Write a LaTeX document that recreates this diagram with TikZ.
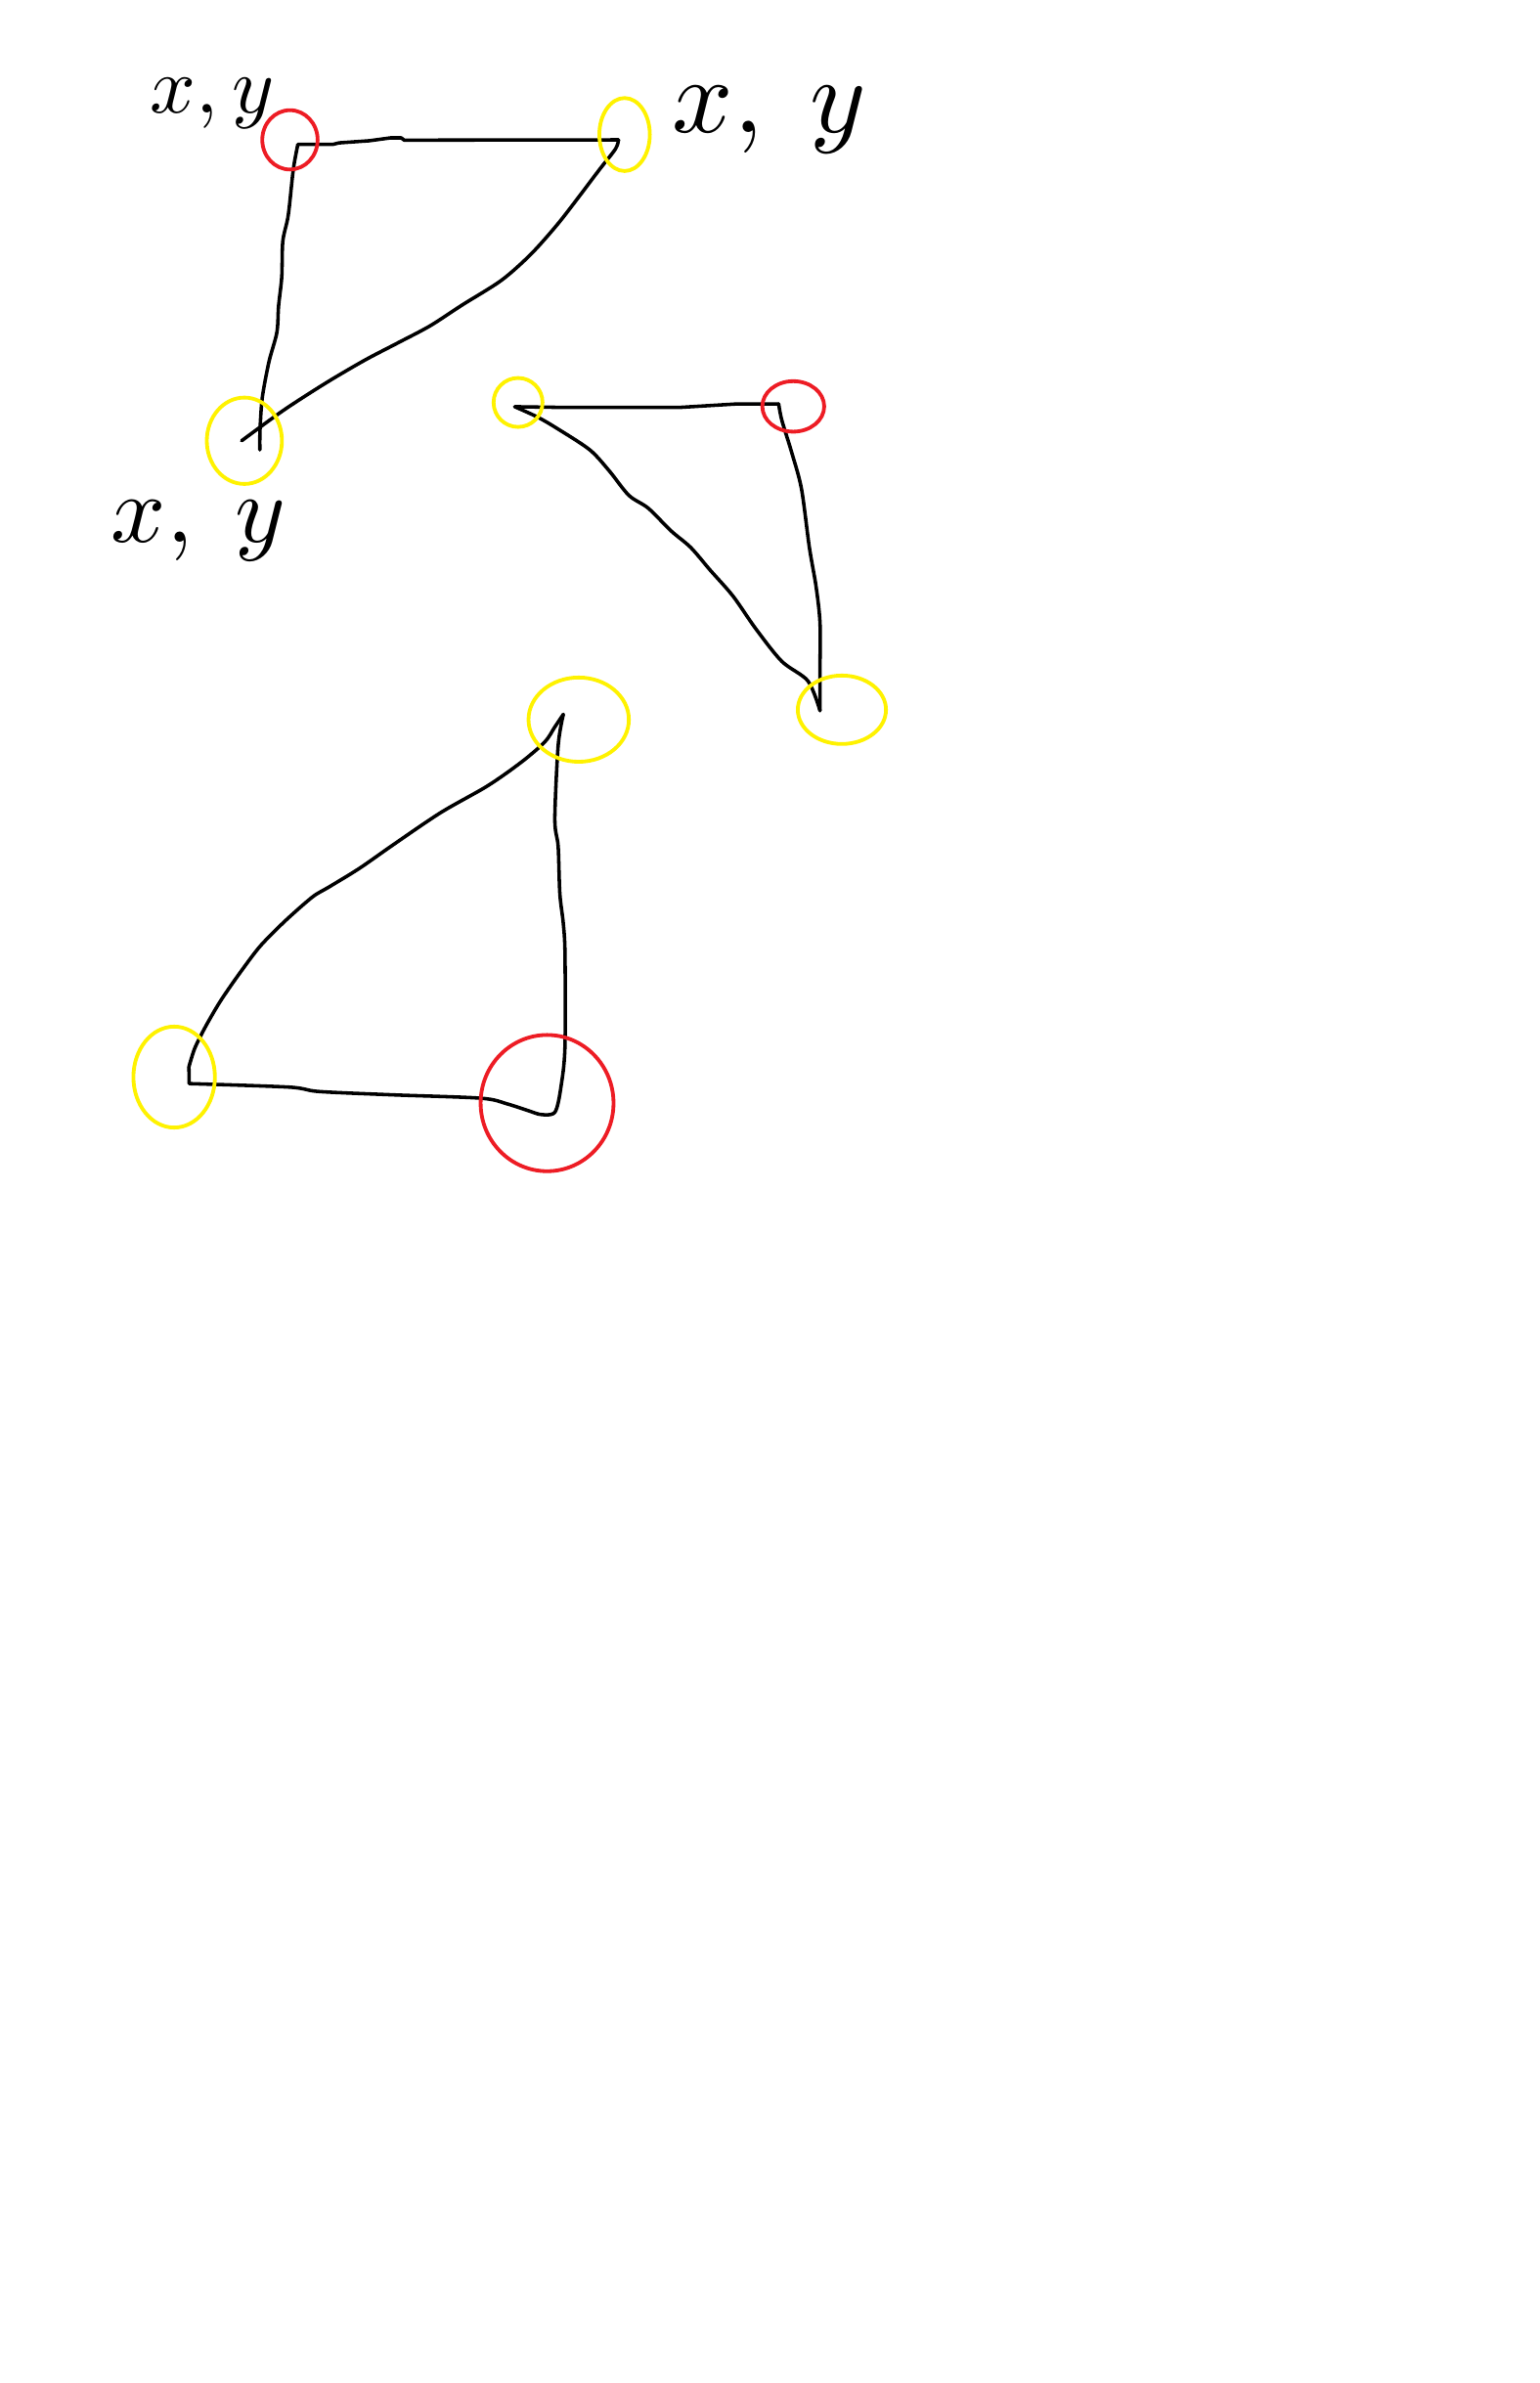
\documentclass[tikz,border=0pt]{standalone}
\usetikzlibrary{shapes.geometric}

\definecolor{paintred}{RGB}{237,28,36}
\definecolor{paintyellow}{RGB}{255,242,0}

\begin{document}
\begin{tikzpicture}[
    x=0.01cm, y=-0.01cm,
    pen/.style     = {line width=0.65pt, black, line join=round, line cap=round},
    redring/.style = {ellipse, draw=paintred, line width=0.7pt, inner sep=0pt},
    yelring/.style = {ellipse, draw=paintyellow, line width=0.7pt, inner sep=0pt},
    lbl/.style     = {anchor=base west, inner sep=0pt}
]
\useasboundingbox (0,0) rectangle (1013,1568);

%% -- Triangle 1 (top left) ----------------------------------
\coordinate (tri1_a) at (196,95);
\coordinate (tri1_b) at (407,92);
\coordinate (tri1_c) at (171,296);
\coordinate (tri1_d) at (159,290);

\draw[pen] (tri1_a) -- (219,95) -- (223,94) -- (243,92.6) -- (257,90.7)
           -- (264,90.7) -- (266,92.2) -- (tri1_b);
\draw[pen] plot[smooth] coordinates {(tri1_a) (193,111.5) (189.7,141.5) (186.1,158.7)
           (185.4,182.2) (183.3,201.5) (182.2,218.7) (177,238) (172.6,261.6) (171.1,283) (tri1_c)};
\draw[pen] plot[smooth] coordinates {(tri1_b) (405,98) (394.5,111.5) (381.6,128.6) (366.6,147.9)
           (349.4,167.2) (330,184.4) (304.4,200.5) (283,214.4) (262,225.5) (240,237)
           (214.4,252) (186.5,270) (tri1_d)};

\node[redring, minimum width=0.364cm, minimum height=0.39cm]  (ring1_a) at (190.8,92) {};
\node[yelring, minimum width=0.332cm, minimum height=0.48cm]  (ring1_b) at (411,88.5) {};
\node[yelring, minimum width=0.494cm, minimum height=0.568cm] (ring1_c) at (160.8,290) {};

\node[lbl, scale=1.5] (lbl_a) at (98,74)  {$x,y$};
\node[lbl, scale=2.0] (lbl_b) at (441,87) {$x,\;y$};
\node[lbl, scale=1.8] (lbl_c) at (72,357) {$x,\;y$};

%% -- Triangle 2 (middle right) ------------------------------
\coordinate (tri2_a) at (338.7,267.6);
\coordinate (tri2_b) at (512.4,265.8);
\coordinate (tri2_c) at (539.6,467.6);

\draw[pen] (tri2_a) -- (366.6,268) -- (448.1,268) -- (484.5,265.8) -- (tri2_b);
\draw[pen] plot[smooth] coordinates {(tri2_b) (514.5,276.6) (521,297.8) (527.4,321.6)
           (532.6,360.2) (537,385.9) (539.6,409.7) (539.6,440) (tri2_c)};
\draw[pen] plot[smooth] coordinates {(tri2_a) (353.7,274.4) (366.6,281.9) (388,295.9)
           (400.9,309.8) (413.8,325.9) (426.6,334.4) (441.7,349.4) (454.5,360.2)
           (467.4,375.2) (482.4,392.3) (497.4,413.8) (514.5,435.2) (531.7,448.1) (tri2_c)};

\node[yelring, minimum width=0.322cm, minimum height=0.322cm] (ring2_a) at (340.9,264.8) {};
\node[redring, minimum width=0.407cm, minimum height=0.332cm] (ring2_b) at (522,267.4) {};
\node[yelring, minimum width=0.58cm,  minimum height=0.45cm]  (ring2_c) at (554,467) {};

%% -- Triangle 3 (bottom) ------------------------------------
\coordinate (tri3_a) at (370.7,470);
\coordinate (tri3_b) at (354,733);
\coordinate (tri3_c) at (124.5,713);

\draw[pen] plot[smooth] coordinates {(tri3_a) (367.3,490.5) (365.1,539.2) (367.3,557)
           (368.4,588) (370.7,607.9) (371.8,627.8) (371.8,687.6) (369.6,712) (365.1,731.9) (tri3_b)};
\draw[pen] plot[smooth] coordinates {(tri3_b) (334,726.4) (316.4,722.6) (258.8,720.4)
           (210,718.2) (190.1,715.3) (tri3_c)};
\draw[pen] (tri3_c) -- (124.3,702);
\draw[pen] plot[smooth] coordinates {(124.3,702) (128.1,689.9) (134.7,676.5) (143.6,661)
           (152.5,647.7) (163.6,632.3) (172.4,621.2) (187.9,605.7) (205.6,590.2)
           (216.7,583.5) (236.6,571.3) (258.8,555.8) (289.8,534.8) (320.8,517.1)
           (342.9,501.6) (358.4,488.3) (365.1,478.3) (tri3_a)};

\node[yelring, minimum width=0.66cm,  minimum height=0.554cm] (ring3_a) at (380.8,473.5) {};
\node[yelring, minimum width=0.536cm, minimum height=0.664cm] (ring3_b) at (114.6,708.7) {};
\node[redring, minimum width=0.874cm, minimum height=0.896cm] (ring3_c) at (360,725.8) {};

\end{tikzpicture}
\end{document}
